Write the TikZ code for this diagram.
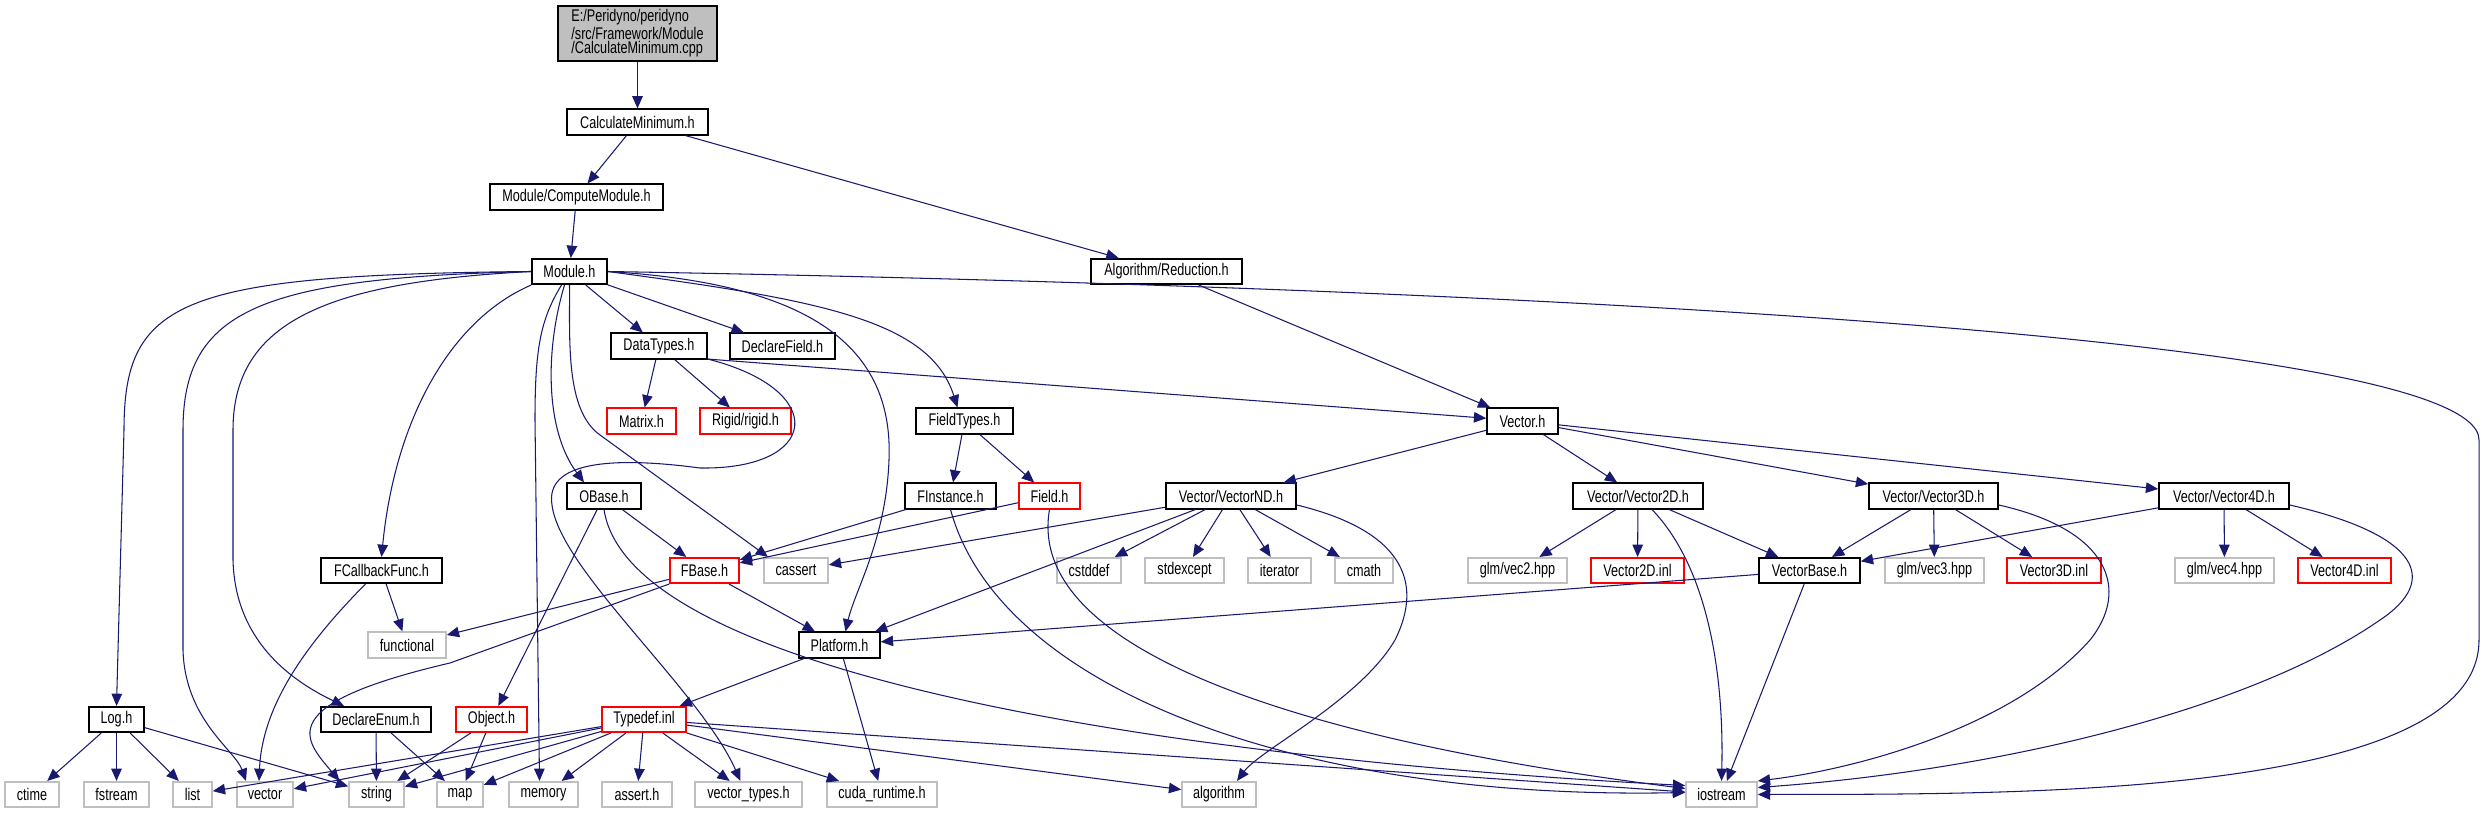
\documentclass[tikz,border=0pt]{standalone}
\usepackage{fontspec}
\setmainfont{Liberation Sans}[FakeStretch=0.75]
\usepackage{tikz}
\definecolor{DoxNavy}{RGB}{25,25,112}
\definecolor{DoxGray}{RGB}{191,191,191}
\definecolor{DoxRed}{RGB}{255,0,0}
\usetikzlibrary{
    arrows.meta,
    calc,
}

\begin{document}
\begin{tikzpicture}[x=0.02cm, y=-0.02cm,
    filebox/.style={draw=black, line width=0.9pt, inner sep=0pt, minimum height=0.51cm,
                    font=\fontsize{9.6}{8.3}\selectfont},
    redfile/.style={filebox, draw=DoxRed},
    sysfile/.style={filebox, draw=DoxGray},
    wd/.style={minimum width=#1*0.02cm},
    incl/.style={DoxNavy, line width=0.6pt, -{Triangle[length=7pt, width=6pt]}}]
        \fill[white] (0,0) rectangle (2485,813);
        % files
        \node[filebox, fill=DoxGray, wd=159, minimum height=1.1cm, align=left] (cpp) at (637.5,33.5) {E:/Peridyno/peridyno\\/src/Framework/Module\\/CalculateMinimum.cpp};
        \node[filebox, wd=141] (calcmin) at (637.5,122) {CalculateMinimum.h};
        \node[filebox, wd=173] (compmod) at (576.5,197) {Module/ComputeModule.h};
        \node[filebox, wd=151] (reduct) at (1166.5,271.5) {Algorithm/Reduction.h};
        \node[filebox, wd=75] (module) at (569.5,271.5) {Module.h};
        \node[filebox, wd=96] (datatypes) at (659,346) {DataTypes.h};
        \node[filebox, wd=105] (declfield) at (782.5,346) {DeclareField.h};
        \node[redfile, wd=69] (matrix) at (641.5,421) {Matrix.h};
        \node[redfile, wd=91] (rigid) at (745.5,421) {Rigid/rigid.h};
        \node[filebox, wd=97] (fieldtypes) at (964.5,421) {FieldTypes.h};
        \node[filebox, wd=71] (vech) at (1522.5,421) {Vector.h};
        \node[filebox, wd=74] (obase) at (604,496) {OBase.h};
        \node[filebox, wd=91] (finst) at (950.5,496) {FInstance.h};
        \node[redfile, wd=61] (field) at (1049.5,496) {Field.h};
        \node[filebox, wd=130] (vnd) at (1231,496) {Vector/VectorND.h};
        \node[filebox, wd=130] (v2d) at (1638,496) {Vector/Vector2D.h};
        \node[filebox, wd=129] (v3d) at (1933.5,496) {Vector/Vector3D.h};
        \node[filebox, wd=130] (v4d) at (2224,496) {Vector/Vector4D.h};
        \node[filebox, wd=121] (fcb) at (381.5,570.5) {FCallbackFunc.h};
        \node[redfile, wd=69] (fbase) at (704.5,570.5) {FBase.h};
        \node[sysfile, wd=64] (cassert) at (796,570.5) {cassert};
        \node[sysfile, wd=64] (cstddef) at (1089,570.5) {cstddef};
        \node[sysfile, wd=79] (stdexcept) at (1184.5,570.5) {stdexcept};
        \node[sysfile, wd=63] (iterator) at (1279.5,570.5) {iterator};
        \node[sysfile, wd=58] (cmath) at (1364,570.5) {cmath};
        \node[sysfile, wd=99] (vec2) at (1517.5,570.5) {glm/vec2.hpp};
        \node[redfile, wd=93] (v2inl) at (1637.5,570.5) {Vector2D.inl};
        \node[filebox, wd=101] (vbase) at (1809.5,570.5) {VectorBase.h};
        \node[sysfile, wd=99] (vec3) at (1934.5,570.5) {glm/vec3.hpp};
        \node[redfile, wd=94] (v3inl) at (2054,570.5) {Vector3D.inl};
        \node[sysfile, wd=99] (vec4) at (2224.5,570.5) {glm/vec4.hpp};
        \node[redfile, wd=93] (v4inl) at (2344.5,570.5) {Vector4D.inl};
        \node[sysfile, wd=78] (functional) at (407,645) {functional};
        \node[filebox, wd=81] (platform) at (839.5,645) {Platform.h};
        \node[filebox, wd=55] (log) at (116.5,719.5) {Log.h};
        \node[filebox, wd=110] (declenum) at (376,719.5) {DeclareEnum.h};
        \node[redfile, wd=71] (object) at (491.5,719.5) {Object.h};
        \node[redfile, wd=84] (typedef) at (644,719.5) {Typedef.inl};
        \node[sysfile, wd=54] (ctime) at (32,794.5) {ctime};
        \node[sysfile, wd=65] (fstream) at (116.5,794.5) {fstream};
        \node[sysfile, wd=39] (list) at (192.5,794.5) {list};
        \node[sysfile, wd=56] (stdvec) at (265,794.5) {vector};
        \node[sysfile, wd=55] (string) at (376.5,794.5) {string};
        \node[sysfile, wd=46] (map) at (460,794.5) {map};
        \node[sysfile, wd=69] (memory) at (543.5,794.5) {memory};
        \node[sysfile, wd=70] (asserth) at (637,794.5) {assert.h};
        \node[sysfile, wd=107] (vtypes) at (748.5,794.5) {vector\_types.h};
        \node[sysfile, wd=110] (cuda) at (882,794.5) {cuda\_runtime.h};
        \node[sysfile, wd=74] (algorithm) at (1219,794.5) {algorithm};
        \node[sysfile, wd=71] (iostream) at (1721.5,794.5) {iostream};
        % straight includes
        \foreach \a/\b in {cpp/calcmin, calcmin/compmod, calcmin/reduct, compmod/module, reduct/vech,
            module/datatypes, module/declfield, datatypes/matrix, datatypes/rigid,
            fieldtypes/finst, fieldtypes/field, vech/vnd, vech/v2d, vech/v3d, vech/v4d,
            finst/fbase, field/fbase, obase/fbase, obase/object,
            vnd/cassert, vnd/cstddef, vnd/stdexcept, vnd/iterator, vnd/cmath, vnd/platform,
            v2d/vec2, v2d/v2inl, v2d/vbase, v3d/vbase, v3d/vec3, v3d/v3inl, v4d/vbase, v4d/vec4, v4d/v4inl,
            fcb/functional, fbase/functional, fbase/platform, vbase/platform, vbase/iostream,
            platform/typedef, platform/cuda, log/ctime, log/fstream, log/list, log/string,
            declenum/string, declenum/map, object/string, object/map,
            typedef/list, typedef/stdvec, typedef/string, typedef/map, typedef/memory, typedef/asserth,
            typedef/vtypes, typedef/cuda, typedef/algorithm, typedef/iostream}
            \draw[incl] (\a) -- (\b);
        \draw[incl] (datatypes.-15) -- (vech);
        % curved includes
        \draw[incl] (module.west) .. controls (180,275) and (124,300) .. (124,430) -- (log.north);
        \draw[incl] (module.west) .. controls (260,278) and (183,310) .. (183,430) -- (183,650) .. controls (185,720) and (235,750) .. ($(stdvec.north)+(-19,0)$);
        \draw[incl] (module.west) .. controls (330,282) and (233,320) .. (233,430) -- (233,560) .. controls (235,640) and (290,680) .. ($(declenum.north)+(-32,0)$);
        \draw[incl] (module.south west) .. controls (450,320) and (395,420) .. (fcb.north);
        \draw[incl] ($(module.south)+(-8,0)$) .. controls (540,320) and (535,350) .. (535,420) -- ($(memory.north)+(-4,0)$);
        \draw[incl] ($(module.south)+(-5,0)$) .. controls (545,350) and (545,430) .. ($(obase.north)+(-20,0)$);
        \draw[incl] (module.south) .. controls (570,340) and (565,410) .. (600,435) -- ($(cassert.north)+(-28,0)$);
        \draw[incl] (module.east) .. controls (820,300) and (930,320) .. ($(fieldtypes.north)+(-7,0)$);
        \draw[incl] (module.east) .. controls (800,283) and (894,340) .. (889,460) .. controls (886,540) and (855,590) .. ($(platform.north)+(6,0)$);
        \draw[incl] (module.east) .. controls (1400,285) and (2479,330) .. (2479,440) -- (2479,640) .. controls (2479,800) and (2000,794) .. (iostream.east);
        \draw[incl] (datatypes.-15) .. controls (830,390) and (820,470) .. (700,468) .. controls (610,456) and (545,462) .. (552,505) .. controls (560,570) and (700,690) .. ($(vtypes.north)+(-8,0)$);
        \draw[incl] (finst.south) .. controls (1000,690) and (1300,800) .. ($(iostream.west)+(0,-2)$);
        \draw[incl] (field.south) .. controls (1025,650) and (1300,740) .. ($(iostream.west)+(0,-6)$);
        \draw[incl] (obase.south) .. controls (630,680) and (1200,760) .. ($(iostream.west)+(0,-9)$);
        \draw[incl] (fbase.south west) -- (450,663) .. controls (270,705) and (305,740) .. ($(string.north)+(-37,0)$);
        \draw[incl] ($(fcb.south)+(-16,0)$) .. controls (300,650) and (262,710) .. ($(stdvec.north)+(-6,0)$);
        \draw[incl] ($(vnd.east)+(0,9)$) .. controls (1400,530) and (1425,580) .. (1395,640) .. controls (1360,700) and (1260,750) .. ($(algorithm.north)+(18,0)$);
        \draw[incl] ($(v2d.south)+(14,0)$) .. controls (1710,570) and (1724,680) .. (iostream.north);
        \draw[incl] ($(v3d.east)+(0,9)$) .. controls (2110,530) and (2130,590) .. (2090,640) .. controls (2010,730) and (1850,770) .. (iostream.north east);
        \draw[incl] ($(v4d.east)+(0,9)$) .. controls (2420,535) and (2440,580) .. (2380,620) .. controls (2250,710) and (2000,770) .. ($(iostream.east)+(0,-7)$);
    \end{tikzpicture}
\end{document}
